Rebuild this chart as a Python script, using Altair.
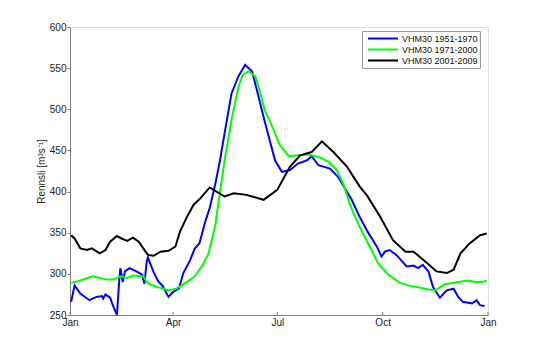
import altair as alt
import pandas as pd

series_names = ["VHM30 1951-1970", "VHM30 1971-2000", "VHM30 2001-2009"]
series_colors = ["#0000FF", "#00FF00", "#000000"]

# Day of year (0 = 1 Jan) and discharge [m3/s]
blue_day = [1, 4, 9, 17, 23, 28, 29, 31, 35, 38, 41, 43, 44, 46, 48, 52, 58, 63, 65, 67, 68, 73, 77, 81,
            86, 90, 95, 99, 105, 109, 113, 118, 122, 127, 131, 135, 141, 147, 153, 159, 164, 169, 175, 179,
            185, 192, 199, 207, 211, 217, 227, 234, 240, 246, 253, 260, 268, 272, 275, 279, 285, 294, 300,
            304, 308, 313, 317, 323, 329, 335, 339, 343, 351, 355, 358, 362]
blue_val = [266, 286, 276, 268, 272, 273, 270, 275, 271, 260, 250, 292, 307, 290, 303, 307, 303, 299, 288,
            315, 320, 302, 291, 285, 272, 278, 282, 301, 317, 331, 337, 363, 380, 410, 438, 471, 519, 540,
            554, 546, 519, 491, 459, 438, 424, 426, 434, 438, 443, 432, 428, 418, 404, 390, 369, 351, 333,
            321, 327, 329, 323, 309, 310, 307, 311, 303, 284, 271, 280, 282, 272, 266, 264, 268, 262, 261]

green_day = [1, 9, 20, 32, 38, 44, 50, 55, 64, 67, 70, 76, 86, 93, 102, 109, 116, 121, 124, 127, 130, 135,
             141, 147, 151, 156, 162, 166, 170, 176, 179, 183, 191, 199, 208, 217, 226, 233, 239, 245, 253,
             261, 269, 278, 287, 295, 306, 313, 319, 327, 339, 348, 354, 360, 364]
green_val = [289, 292, 297, 293, 293, 297, 295, 298, 297, 290, 287, 284, 280, 282, 290, 297, 311, 325, 342,
             360, 390, 438, 487, 527, 542, 546, 540, 521, 499, 481, 471, 457, 443, 444, 445, 442, 436, 426,
             408, 382, 357, 335, 313, 299, 290, 286, 283, 281, 280, 287, 290, 292, 290, 290, 292]

black_day = [1, 4, 9, 15, 19, 26, 31, 35, 41, 45, 50, 55, 60, 64, 68, 73, 79, 86, 92, 96, 102, 108, 114,
             122, 128, 135, 143, 154, 169, 181, 192, 201, 211, 220, 230, 242, 253, 259, 271, 282, 293, 300,
             312, 320, 329, 335, 341, 349, 358, 364]
black_val = [347, 343, 331, 329, 331, 325, 329, 339, 346, 343, 340, 344, 339, 331, 323, 322, 327, 328, 333,
             351, 369, 384, 392, 405, 400, 394, 398, 396, 390, 402, 430, 444, 448, 461, 448, 430, 406, 396,
             369, 341, 327, 327, 313, 303, 301, 305, 325, 337, 347, 349]

tick_days = [0, 90, 181, 273, 365]
tick_labels = ["Jan", "Apr", "Jul", "Oct", "Jan"]

rows = []
for name, days, vals in zip(series_names, [blue_day, green_day, black_day], [blue_val, green_val, black_val]):
    for d, v in zip(days, vals):
        rows.append({"day": d, "q": v, "series": name})
df = pd.DataFrame(rows)

label_map = "{" + ",".join(f"'{d}':'{l}'" for d, l in zip(tick_days, tick_labels)) + "}"

FONT = "Liberation Sans"

x_scale = alt.Scale(domain=[0, 365], nice=False, zero=False)
y_scale = alt.Scale(domain=[250, 600], nice=False, zero=False)

lines = alt.Chart(df).mark_line(strokeWidth=2, clip=True).encode(
    x=alt.X("day:Q", scale=x_scale,
            axis=alt.Axis(values=tick_days, labelExpr=f"{label_map}[toString(datum.value)]",
                          title=None, grid=False, tickSize=0, labelPadding=2, domainColor="#808080",
                          labelColor="#222", labelFontSize=10, labelFont=FONT, labelFlush=False)),
    y=alt.Y("q:Q", scale=y_scale,
            axis=alt.Axis(values=[250, 300, 350, 400, 450, 500, 550, 600], title="Rennsli [m³s⁻¹]",
                          grid=False, tickSize=3, tickColor="#808080", domainColor="#808080",
                          labelColor="#222", labelFontSize=10, labelFont=FONT, labelPadding=1,
                          titleFont=FONT, titleFontSize=10, titleFontWeight="normal", titleColor="#222",
                          titlePadding=3)),
    color=alt.Color("series:N", scale=alt.Scale(domain=series_names, range=series_colors),
                    legend=alt.Legend(title=None, orient="none", legendX=292, legendY=4,
                                      symbolType="stroke", symbolSize=900, symbolStrokeWidth=2,
                                      clipHeight=11,
                                      labelFont=FONT, labelFontSize=9, labelColor="#111",
                                      strokeColor="#999", fillColor="white", padding=2,
                                      rowPadding=0, columnPadding=0, labelOffset=3, symbolOffset=3)),
    detail="series:N",
)

ticks_df = pd.DataFrame({"day": tick_days})
ticks = alt.Chart(ticks_df).mark_rule(color="#808080", strokeWidth=1).encode(
    x=alt.X("day:Q", scale=x_scale),
    y=alt.value(288),
    y2=alt.value(285),
)

chart = alt.layer(lines, ticks).properties(
    width=418, height=288,
    autosize=alt.AutoSizeParams(type="none"),
    padding={"left": 70, "top": 27, "right": 52, "bottom": 39},
).configure_view(stroke=None).configure(background="white")

chart.save("out.html", embed_options={"renderer": "svg", "actions": False})
